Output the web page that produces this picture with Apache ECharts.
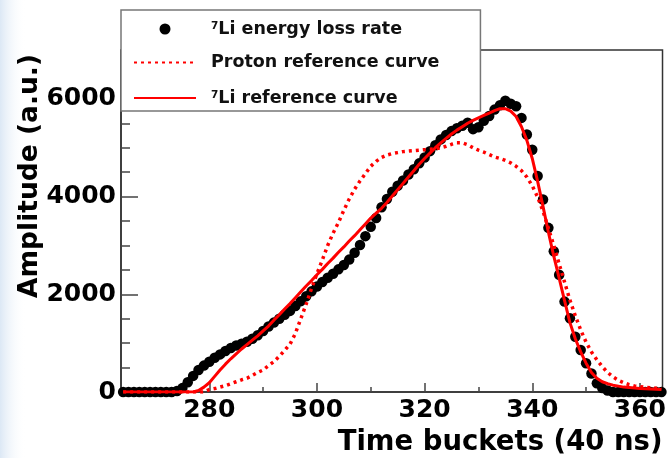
<!DOCTYPE html>
<html><head><meta charset="utf-8">
<script src="https://cdn.jsdelivr.net/npm/echarts@6/dist/echarts.min.js"></script>
<style>html,body{margin:0;padding:0;background:#fff}#c{width:669px;height:458px}</style>
</head><body><div id="c"></div>
<script>
// Time buckets (40 ns each)
const buckets = [264,265,266,267,268,269,270,271,272,273,274,275,276,277,278,279,280,281,282,283,284,285,286,287,288,289,290,291,292,293,294,295,296,297,298,299,300,301,302,303,304,305,306,307,308,309,310,311,312,313,314,315,316,317,318,319,320,321,322,323,324,325,326,327,328,329,330,331,332,333,334,335,336,337,338,339,340,341,342,343,344,345,346,347,348,349,350,351,352,353,354,355,356,357,358,359,360,361,362,363,364];

// 7Li energy loss rate (measured points)
const liEnergyLossRate = [0,0,0,0,0,0,0,0,0,0,
  20,80,200,330,450,540,620,700,770,840,900,950,990,1030,1090,1160,1250,1340,1420,1500,
  1580,1660,1760,1860,1960,2060,2160,2250,2340,2420,2510,2600,2710,2850,3010,3190,3380,3560,3780,3950,
  4100,4220,4330,4450,4560,4680,4800,4930,5050,5170,5260,5340,5400,5450,5510,5380,5420,5550,5650,5780,
  5870,5960,5900,5850,5610,5270,4960,4420,3940,3360,2880,2400,1850,1510,1130,860,590,380,180,80,30,
  0,0,0,0,0,0,0,0,0,0];

// Proton reference curve
const protonReferenceCurve = [0,0,0,0,0,0,0,0,0,0,0,0,0,0,0,0,
  50,70,100,130,170,210,250,280,340,400,450,540,620,730,850,980,1200,1500,1800,2120,
  2420,2700,3000,3250,3470,3720,3950,4150,4320,4470,4620,4720,4800,4850,4880,4900,4920,4930,4940,4950,
  4960,4970,4980,5000,5030,5070,5100,5100,5060,5000,4950,4910,4860,4810,4780,4740,4690,4620,4530,4400,
  4220,3990,3700,3350,3000,2620,2250,1880,1560,1270,1020,820,660,520,400,310,240,190,150,125,
  110,95,85,78,70];

// 7Li reference curve
const liReferenceCurve = [0,0,0,0,0,0,0,0,0,0,0,0,0,0,
  30,100,190,320,450,570,680,780,880,970,1060,1150,1250,1350,1470,1580,1700,1810,1930,2050,2170,2280,
  2400,2510,2630,2740,2860,2970,3090,3200,3320,3440,3560,3660,3760,3880,4010,4140,4270,4400,4530,4660,
  4780,4890,5000,5100,5190,5280,5360,5430,5500,5560,5610,5660,5710,5760,5800,5800,5750,5640,5430,5150,
  4780,4310,3800,3270,2780,2330,1870,1420,1090,820,590,400,280,210,170,140,120,100,90,80,
  70,65,60,55,50];

const xMajorTicks = [280,300,320,340,360];
const xMinorTicks = [270,290,310,330,350];
const seriesNames = ['7Li energy loss rate','Proton reference curve','7Li reference curve'];
const xTitle = 'Time buckets (40 ns)';
const yTitle = 'Amplitude (a.u.)';

const FONT = 'DejaVu Sans';
const pairs = arr => buckets.map((b, i) => [b, arr[i]]);

const chart = echarts.init(document.getElementById('c'), null, {renderer: 'canvas'});
chart.setOption({
  animation: false,
  backgroundColor: '#fff',
  graphic: [
    {type: 'rect', z: -10, shape: {x: 0, y: 0, width: 26, height: 458},
     style: {fill: new echarts.graphic.LinearGradient(0, 0, 1, 0, [
       {offset: 0, color: '#dce8f5'}, {offset: 1, color: 'rgba(255,255,255,0)'}])}},
    {type: 'text', x: 30, y: 176, rotation: Math.PI / 2, z: 10,
     style: {text: yTitle, font: 'bold 26.5px "DejaVu Sans"', fill: '#000',
             align: 'center', verticalAlign: 'middle', textAlign: 'center', textVerticalAlign: 'middle'}}
  ],
  grid: {left: 121, right: 3, top: 50, bottom: 66, show: true,
         borderColor: '#333', borderWidth: 1.5, backgroundColor: 'transparent'},
  legend: {
    orient: 'vertical', left: 121, top: 10, padding: [8, 41, 4, 12],
    itemWidth: 62, itemHeight: 11, itemGap: 15.5,
    backgroundColor: '#fff', borderColor: '#777', borderWidth: 1.5, z: 10,
    selectedMode: false,
    data: [
      {name: seriesNames[0]},
      {name: seriesNames[1], itemStyle: {opacity: 0}},
      {name: seriesNames[2], itemStyle: {opacity: 0}}
    ],
    formatter: name => name.charAt(0) === '7'
      ? '{sup|7}{t|' + name.slice(1) + '}'
      : '{tp|' + name + '}',
    textStyle: {
      rich: {
        t: {fontFamily: FONT, fontWeight: 'bold', fontSize: 17.5, color: '#111', lineHeight: 22},
        tp: {fontFamily: FONT, fontWeight: 'bold', fontSize: 17.5, color: '#111', lineHeight: 22, padding: [0, 0, 0, 10]},
        sup: {fontFamily: FONT, fontWeight: 'bold', fontSize: 10.5, color: '#111', lineHeight: 12,
              verticalAlign: 'top', padding: [3, 0, 0, 10]}
      }
    }
  },
  xAxis: [
    {type: 'value', min: 263.6, max: 364.2, position: 'bottom',
     axisLine: {show: true, lineStyle: {color: '#333', width: 1.5}},
     axisTick: {show: true, inside: true, length: 9, customValues: xMajorTicks, lineStyle: {color: '#444', width: 1.5}},
     axisLabel: {customValues: xMajorTicks, margin: 6, fontFamily: FONT, fontWeight: 'bold', fontSize: 25, color: '#000'},
     splitLine: {show: false},
     name: xTitle, nameLocation: 'end', nameGap: 0,
     nameTextStyle: {align: 'right', verticalAlign: 'top', padding: [37, 0, 0, 0],
                     fontFamily: FONT, fontWeight: 'bold', fontSize: 27.5, color: '#000'}},
    {type: 'value', min: 263.6, max: 364.2, position: 'bottom', gridIndex: 0,
     axisLine: {show: false},
     axisTick: {show: true, inside: true, length: 5, customValues: xMinorTicks, lineStyle: {color: '#444', width: 1.5}},
     axisLabel: {show: false}, splitLine: {show: false}}
  ],
  yAxis: {
    type: 'value', min: 0, max: 7000, interval: 2000,
    axisLine: {show: true, lineStyle: {color: '#333', width: 1.5}},
    axisTick: {show: true, inside: true, length: 17, lineStyle: {color: '#444', width: 1.5}},
    minorTick: {show: true, splitNumber: 4, length: 9, lineStyle: {color: '#444', width: 1.5}},
    axisLabel: {margin: 5, showMaxLabel: false, formatter: v => String(v),
                fontFamily: FONT, fontWeight: 'bold', fontSize: 25, color: '#000'},
    splitLine: {show: false}, minorSplitLine: {show: false}
  },
  series: [
    {name: seriesNames[0], type: 'scatter', data: pairs(liEnergyLossRate),
     symbol: 'circle', symbolSize: 10.5, itemStyle: {color: '#000', opacity: 1}},
    {name: seriesNames[1], type: 'line', data: pairs(protonReferenceCurve),
     symbol: 'none', showSymbol: false, itemStyle: {color: '#ff0000'},
     lineStyle: {color: '#ff0000', width: 3.5, type: [3, 4], cap: 'butt'}},
    {name: seriesNames[2], type: 'line', data: pairs(liReferenceCurve),
     symbol: 'none', showSymbol: false, itemStyle: {color: '#ff0000'},
     lineStyle: {color: '#ff0000', width: 3}}
  ]
});
</script></body></html>
